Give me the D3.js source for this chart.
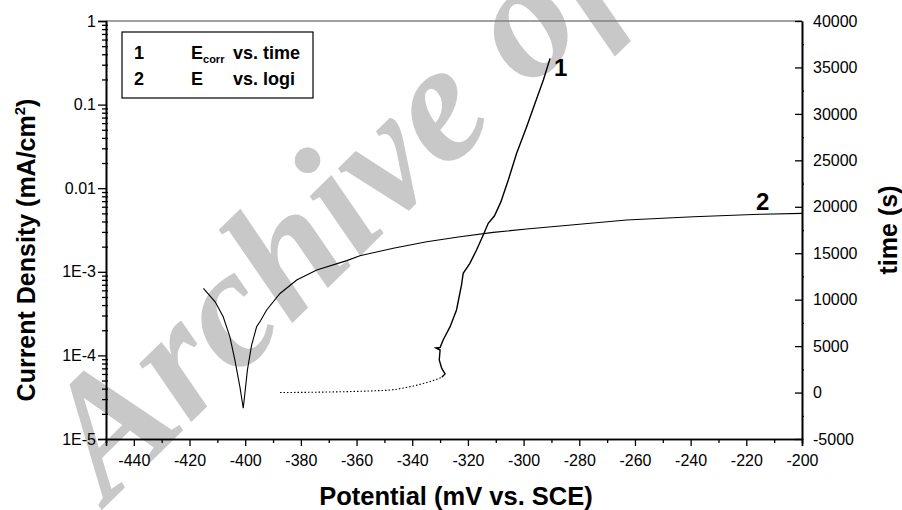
<!DOCTYPE html>
<html><head><meta charset="utf-8">
<script src="https://cdn.jsdelivr.net/npm/d3@7"></script>
<style>
body{margin:0;background:#fff;}
svg{display:block;font-family:"Liberation Sans",Arial,sans-serif;}
</style></head><body>
<svg id="chart" width="902" height="510"></svg>
<script>
// ---- data ----
const potentialTicks = [-440,-420,-400,-380,-360,-340,-320,-300,-280,-260,-240,-220,-200];
const currentTicks = [1e-5,1e-4,1e-3,0.01,0.1,1];
const currentTickLabels = ["1E-5","1E-4","1E-3","0.01","0.1","1"];
const timeTicks = [-5000,0,5000,10000,15000,20000,25000,30000,35000,40000];

// curve 2: E vs. log i (left axis)
const polPotential = [-415.0,-410.8,-407.9,-405.5,-403.7,-401.9,-400.7,-399.2,-397.7,-395.9,-394.5,-392.3,-387.5,-381.5,-374.3,-363.5,-358.8,-346.8,-334.8,-322.8,-310.9,-298.9,-286.9,-263.0,-239.0,-215.1,-200.0];
const polCurrent   = [6.35e-4,4.38e-4,2.9e-4,1.67e-4,8.8e-5,4.2e-5,2.33e-5,6.7e-5,1.33e-4,2.2e-4,2.6e-4,3.49e-4,5.5e-4,7.98e-4,1.05e-3,1.36e-3,1.56e-3,1.91e-3,2.29e-3,2.63e-3,2.96e-3,3.25e-3,3.53e-3,4.17e-3,4.56e-3,4.87e-3,5.0e-3];

// curve 1: Ecorr vs. time (right axis)
const ecorrPotential = [-387.5,-376.0,-365.9,-357.0,-349.2,-345.6,-339.6,-333.6,-329.4,-328.2,-329.4,-330.3,-330.0,-331.5,-330.0,-328.9,-326.4,-324.1,-322.3,-321.7,-319.3,-316.9,-314.5,-312.7,-310.5,-308.2,-305.5,-302.5,-298.9,-295.9,-292.9,-290.5];
const ecorrTime      = [0,30,80,150,240,350,700,1170,1640,2000,2600,3500,4580,4800,4850,5660,7090,8890,11580,12840,13915,15350,16960,18220,19000,20500,22880,25760,28620,31140,33650,35980];

const legendIds = ["1","2"];
const legendSymbols = ["E","E"];
const legendSubs = ["corr",""];
const legendTexts = ["vs. time","vs. logi"];

// ---- layout ----
const L = 106, R = 802, T = 21, B = 439;
const svg = d3.select("#chart");

// watermark
svg.append("text")
  .attr("transform","translate(108,504) rotate(-44.5)")
  .attr("font-family","'Liberation Serif','DejaVu Serif',serif")
  .attr("font-weight","bold").attr("font-style","italic")
  .attr("font-size",170).attr("fill","#c8c8c8")
  .text("Archive of SID");

const x = d3.scaleLinear().domain([-450,-200]).range([L,R]);
const yL = d3.scaleLog().domain([1e-5,1]).range([B,T]);
const yR = d3.scaleLinear().domain([-5000,40000]).range([B,T]);

// top frame line
svg.append("line").attr("x1",L).attr("x2",R).attr("y1",T).attr("y2",T)
  .attr("stroke","#808080").attr("stroke-width",1.5);

function styleAxis(g){
  g.selectAll("path.domain").attr("stroke","#000").attr("stroke-width",1.6);
  g.selectAll(".tick line").attr("stroke","#000").attr("stroke-width",1.3);
  g.selectAll(".tick text").attr("font-family","'Liberation Sans',Arial,sans-serif").attr("font-size",16).attr("fill","#000");
}

// bottom axis minor
const minorX = d3.range(-450,-199,10).filter(v=>potentialTicks.indexOf(v)<0);
const gxm = svg.append("g").attr("transform",`translate(0,${B})`)
  .call(d3.axisBottom(x).tickValues(minorX).tickSize(4).tickFormat(""));
styleAxis(gxm);
const gx = svg.append("g").attr("transform",`translate(0,${B})`)
  .call(d3.axisBottom(x).tickValues(potentialTicks).tickSize(7).tickPadding(9).tickFormat(d=>String(d)));
styleAxis(gx);

// left axis minor
const minorY = [];
for (let e=-5;e<0;e++) for (let m=2;m<=9;m++) minorY.push(m*Math.pow(10,e));
const gym = svg.append("g").attr("transform",`translate(${L},0)`)
  .call(d3.axisLeft(yL).tickValues(minorY).tickSizeInner(4).tickSizeOuter(0).tickFormat(""));
styleAxis(gym);
gym.selectAll(".tick line").attr("x1",2);
const gy = svg.append("g").attr("transform",`translate(${L},0)`)
  .call(d3.axisLeft(yL).tickValues(currentTicks).tickSize(8).tickPadding(2).tickFormat((d,i)=>currentTickLabels[i]));
styleAxis(gy);

// right axis
const minorR = d3.range(-2500,40000,5000);
const grm = svg.append("g").attr("transform",`translate(${R},0)`)
  .call(d3.axisRight(yR).tickValues(minorR).tickSizeInner(-4).tickSizeOuter(0).tickFormat(""));
styleAxis(grm);
grm.selectAll(".tick line").attr("x2",2);
const gr = svg.append("g").attr("transform",`translate(${R},0)`)
  .call(d3.axisRight(yR).tickValues(timeTicks).tickSizeInner(-7).tickSizeOuter(0).tickPadding(11).tickFormat(d=>String(d)));
styleAxis(gr);

// axis titles
svg.append("text").attr("x",(L+R)/2+2).attr("y",505).attr("text-anchor","middle")
  .attr("font-size",25.5).attr("font-weight","bold").text("Potential (mV vs. SCE)");
const lt = svg.append("text").attr("transform","translate(35,250) rotate(-90)").attr("text-anchor","middle")
  .attr("font-size",25).attr("font-weight","bold");
lt.append("tspan").text("Current Density (mA/cm");
lt.append("tspan").attr("font-size",15).attr("dy",-10).text("2");
lt.append("tspan").attr("dy",10).text(")");
svg.append("text").attr("transform","translate(897,230) rotate(-90)").attr("text-anchor","middle")
  .attr("font-size",25).attr("font-weight","bold").text("time (s)");

// curves
const pol = polPotential.map((p,i)=>[p,polCurrent[i]]);
svg.append("path").datum(pol)
  .attr("d",d3.line().x(d=>x(d[0])).y(d=>yL(d[1])))
  .attr("fill","none").attr("stroke","#000").attr("stroke-width",1.1);

const ec = ecorrPotential.map((p,i)=>[p,ecorrTime[i]]);
const split = ec.findIndex(d=>d[1]>=1640);
const lineR = d3.line().x(d=>x(d[0])).y(d=>yR(d[1]));
svg.append("path").datum(ec.slice(0,split+1)).attr("d",lineR)
  .attr("fill","none").attr("stroke","#000").attr("stroke-width",1.1).attr("stroke-dasharray","1.5,2");
svg.append("path").datum(ec.slice(split)).attr("d",lineR)
  .attr("fill","none").attr("stroke","#000").attr("stroke-width",1.4);

// curve labels
svg.append("text").attr("x",x(ecorrPotential[ecorrPotential.length-1])+4).attr("y",76)
  .attr("font-size",24).attr("font-weight","bold").text("1");
svg.append("text").attr("x",756).attr("y",210)
  .attr("font-size",24).attr("font-weight","bold").text("2");

// legend
svg.append("rect").attr("x",122).attr("y",32).attr("width",191).attr("height",66)
  .attr("fill","#fff").attr("stroke","#000").attr("stroke-width",1.2);
legendIds.forEach((id,i)=>{
  const yb = 59 + i*26;
  svg.append("text").attr("x",134).attr("y",yb).attr("font-size",18).attr("font-weight","bold").text(id);
  const t = svg.append("text").attr("x",191).attr("y",yb).attr("font-size",18).attr("font-weight","bold");
  t.append("tspan").text(legendSymbols[i]);
  if (legendSubs[i]) t.append("tspan").attr("font-size",11).attr("dy",4).text(legendSubs[i]);
  svg.append("text").attr("x",233).attr("y",yb).attr("font-size",18).attr("font-weight","bold").text(legendTexts[i]);
});
</script>
</body></html>
